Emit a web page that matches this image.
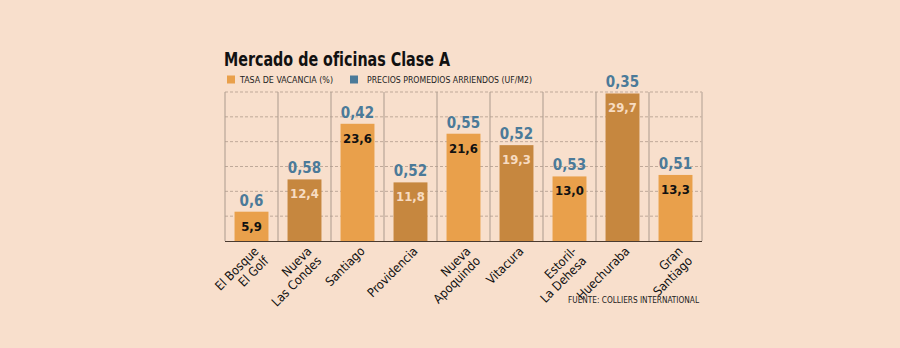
<html lang="es">
  <head>
    <meta charset="UTF-8" />
    <title>Mercado de oficinas Clase A</title>
    <script src="https://d3js.org/d3.v7.min.js"></script>
  </head>
  <body>
    <style>
      body {
        margin: 0;
        padding: 0;
        background-color: #f8dfcc;
      }
      svg {
        display: block;
        font-family: "DejaVu Sans Condensed", "DejaVu Sans", sans-serif;
      }
    </style>
    <script>
      const w = 900;
      const h = 348;
      const margin = { top: 92, left: 225, right: 198, bottom: 107 };

      // datos
      const comunas = [
        ["El Bosque", "El Golf"],
        ["Nueva", "Las Condes"],
        ["Santiago"],
        ["Providencia"],
        ["Nueva", "Apoquindo"],
        ["Vitacura"],
        ["Estoril-", "La Dehesa"],
        ["Huechuraba"],
        ["Gran", "Santiago"],
      ];
      const vacancia = [5.9, 12.4, 23.6, 11.8, 21.6, 19.3, 13.0, 29.7, 13.3];
      const precios = [0.6, 0.58, 0.42, 0.52, 0.55, 0.52, 0.53, 0.35, 0.51];
      const yTicks = [0, 5, 10, 15, 20, 25, 30];

      const lightBar = "#e9a04b";
      const darkBar = "#c6873f";
      const blue = "#4b7a99";

      const svg = d3
        .select("body")
        .append("svg")
        .attr("width", w)
        .attr("height", h);

      // titulo
      svg
        .append("text")
        .attr("x", 224)
        .attr("y", 66)
        .attr("textLength", 226)
        .attr("lengthAdjust", "spacingAndGlyphs")
        .style("font-size", "19px")
        .style("font-weight", "bold")
        .style("fill", "#111")
        .text("Mercado de oficinas Clase A");

      // leyenda
      const legend = svg.append("g");
      const legendItems = [
        { label: "TASA DE VACANCIA (%)", color: lightBar, x: 227, len: 93 },
        { label: "PRECIOS PROMEDIOS ARRIENDOS (UF/M2)", color: blue, x: 350, len: 165 },
      ];
      legendItems.forEach((d) => {
        legend
          .append("rect")
          .attr("x", d.x)
          .attr("y", 75.5)
          .attr("width", 8)
          .attr("height", 8)
          .attr("fill", d.color);
        legend
          .append("text")
          .attr("x", d.x + (d.x === 227 ? 13 : 17))
          .attr("y", 83)
          .attr("textLength", d.len)
          .attr("lengthAdjust", "spacingAndGlyphs")
          .style("font-size", "9.5px")
          .style("fill", "#222")
          .text(d.label);
      });

      const xScale = d3
        .scaleBand()
        .domain(d3.range(comunas.length))
        .range([margin.left, w - margin.right])
        .paddingInner(0.36)
        .paddingOuter(0.18);
      const step = xScale.step();
      const x0 = margin.left;
      const yScale = d3
        .scaleLinear()
        .domain([0, 30])
        .range([h - margin.bottom, margin.top]);

      // grilla horizontal
      svg
        .append("g")
        .selectAll("line")
        .data(yTicks.slice(1))
        .enter()
        .append("line")
        .attr("x1", x0)
        .attr("x2", w - margin.right)
        .attr("y1", (d) => yScale(d))
        .attr("y2", (d) => yScale(d))
        .attr("stroke", "#bfa999")
        .attr("stroke-width", 1)
        .attr("stroke-dasharray", "3,2");

      // grilla vertical
      svg
        .append("g")
        .selectAll("line")
        .data(d3.range(comunas.length + 1))
        .enter()
        .append("line")
        .attr("x1", (i) => x0 + i * step)
        .attr("x2", (i) => x0 + i * step)
        .attr("y1", yScale(30))
        .attr("y2", yScale(0))
        .attr("stroke", (i) => (i === comunas.length ? "#cbb7a8" : "#ab9a8d"))
        .attr("stroke-width", (i) => (i === comunas.length ? 1.6 : 1));

      // barras
      svg
        .append("g")
        .selectAll("rect")
        .data(vacancia)
        .enter()
        .append("rect")
        .attr("x", (d, i) => xScale(i))
        .attr("y", (d) => yScale(d))
        .attr("width", xScale.bandwidth())
        .attr("height", (d) => yScale(0) - yScale(d))
        .attr("fill", (d, i) => (i % 2 ? darkBar : lightBar));

      // linea base
      svg
        .append("line")
        .attr("x1", x0)
        .attr("x2", w - margin.right)
        .attr("y1", yScale(0) + 0.5)
        .attr("y2", yScale(0) + 0.5)
        .attr("stroke", "#4a3b30")
        .attr("stroke-width", 1.2);

      const fmt = (v) => String(v).replace(".", ",");

      // valores dentro de las barras
      svg
        .append("g")
        .selectAll("text")
        .data(vacancia)
        .enter()
        .append("text")
        .attr("x", (d, i) => xScale(i) + xScale.bandwidth() / 2)
        .attr("y", (d) => yScale(d) + 19)
        .attr("text-anchor", "middle")
        .style("font-size", "13px")
        .style("font-weight", "bold")
        .style("fill", (d, i) => (i % 2 ? "#f7dcc2" : "#111"))
        .text((d) => d.toFixed(1).replace(".", ","));

      // precios sobre las barras
      svg
        .append("g")
        .selectAll("text")
        .data(precios)
        .enter()
        .append("text")
        .attr("x", (d, i) => xScale(i) + xScale.bandwidth() / 2)
        .attr("y", (d, i) => yScale(vacancia[i]) - 6)
        .attr("text-anchor", "middle")
        .style("font-size", "15px")
        .style("font-weight", "bold")
        .style("fill", blue)
        .text((d) => fmt(d));

      // etiquetas de comunas
      const labels = svg
        .append("g")
        .selectAll("text")
        .data(comunas)
        .enter()
        .append("text")
        .attr(
          "transform",
          (d, i) =>
            `translate(${xScale(i) + xScale.bandwidth() / 2 + 8}, ${yScale(0) + 11}) rotate(-45)`
        )
        .attr("text-anchor", "end")
        .style("font-size", "12.5px")
        .style("fill", "#111");
      labels
        .selectAll("tspan")
        .data((d) => d)
        .enter()
        .append("tspan")
        .attr("x", 0)
        .attr("dy", (d, j) => (j === 0 ? 0 : "1.1em"))
        .text((d) => d);

      // fuente
      svg
        .append("text")
        .attr("x", 699)
        .attr("y", 303)
        .attr("text-anchor", "end")
        .attr("textLength", 131)
        .attr("lengthAdjust", "spacingAndGlyphs")
        .style("font-size", "9.5px")
        .style("fill", "#222")
        .text("FUENTE: COLLIERS INTERNATIONAL");
    </script>
  </body>
</html>
